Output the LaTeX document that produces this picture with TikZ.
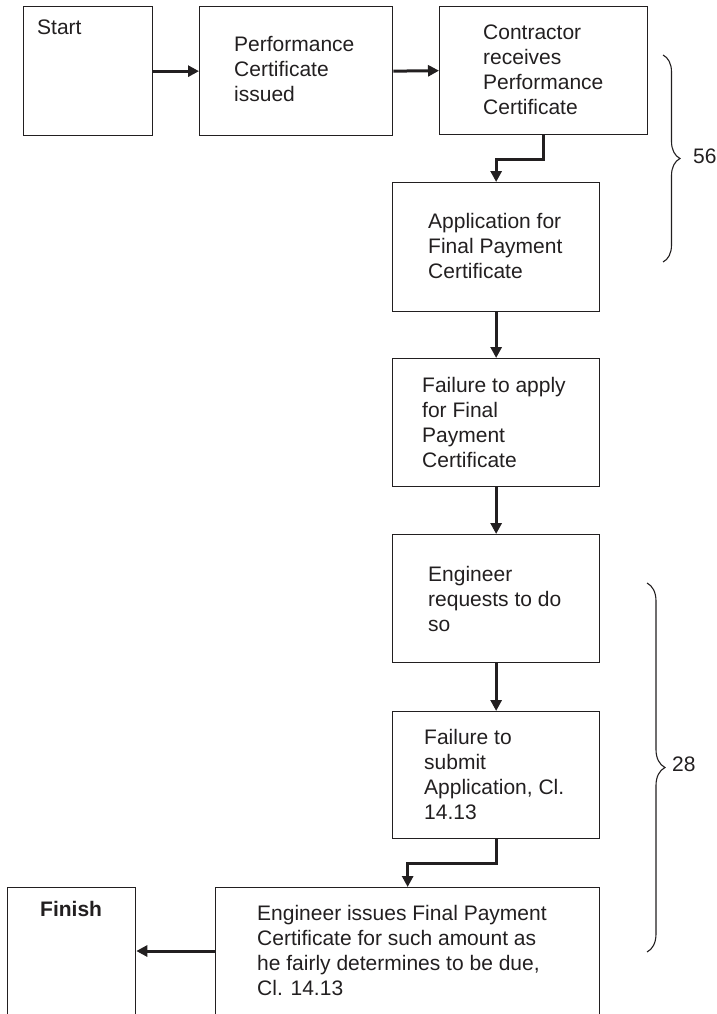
\documentclass[tikz,border=0pt]{standalone}
\usepackage{fontspec}
\setmainfont{Liberation Sans}
\usetikzlibrary{arrows.meta,decorations.pathreplacing,calc}
\definecolor{ink}{RGB}{34,31,32}
\tikzset{
  box/.style={draw=ink, line width=1.3pt, inner sep=0pt, anchor=north west},
  txt/.style={anchor=base west, inner sep=0pt, align=left, text=ink,
    font=\fontsize{21}{25}\selectfont},
  arr/.style={draw=ink, line width=3pt, -{Triangle[length=11pt,width=11pt]}},
  brc/.style={draw=ink, line width=1.1pt, decorate},
}
\begin{document}
\begin{tikzpicture}[x=1pt,y=-1pt]
\useasboundingbox (0,0) rectangle (717,1014);
\clip (0,0) rectangle (717,1014);
% boxes
\node[box, minimum width=129pt, minimum height=129pt] (start) at (23,6) {};
\node[box, minimum width=193pt, minimum height=129pt] (perf) at (199,6) {};
\node[box, minimum width=208pt, minimum height=128pt] (contr) at (439,6) {};
\node[box, minimum width=207pt, minimum height=129pt] (app) at (392,182) {};
\node[box, minimum width=207pt, minimum height=128pt] (failA) at (392,358) {};
\node[box, minimum width=207pt, minimum height=128pt] (engreq) at (392,534) {};
\node[box, minimum width=207pt, minimum height=127pt] (failB) at (392,711) {};
\node[box, minimum width=128pt, minimum height=200pt] (finish) at (7,887) {};
\node[box, minimum width=384pt, minimum height=200pt] (final) at (215,887) {};
% texts (anchor = baseline of the last line)
\node[txt] (tStart) at (37,35) {Start};
\node[txt] (tPerf) at (234,102) {Performance\\Certificate\\issued};
\node[txt] (tContr) at (483,115) {Contractor\\receives\\Performance\\Certificate};
\node[txt] (tApp) at (428,278) {Application for\\Final Payment\\Certificate};
\node[txt] (tFailA) at (422,467) {Failure to apply\\for Final\\Payment\\Certificate};
\node[txt] (tEng) at (428,631) {Engineer\\requests to do\\so};
\node[txt] (tFailB) at (424,819) {Failure to\\submit\\Application, Cl.\\14.13};
\node[txt] (tFinal) at (257,995) {Engineer issues Final Payment\\Certificate for such amount as\\he fairly determines to be due,\\Cl. 14.13};
\node[txt, font=\fontsize{21}{25}\selectfont\bfseries] (tFinish) at (40,916) {Finish};
% connectors
\draw[arr] (start.east) -- (perf.west);
\draw[arr] (perf.east) -- (contr.west);
\draw[arr] (contr.south) -- ++(0,24) -| (app.north);
\draw[arr] (app.south) -- (failA.north);
\draw[arr] (failA.south) -- (engreq.north);
\draw[arr] (engreq.south) -- (failB.north);
\draw[arr] (failB.south) -- ++(0,24) -| (final.north);
\draw[arr] ([yshift=-64pt]final.north west) -- ([yshift=-64pt]finish.north east);
% braces
\coordinate (b1t) at (663,55);
\coordinate (b1b) at (663,262);
\coordinate (b2t) at (647,583);
\coordinate (b2b) at (647,952);
\draw[brc, decoration={brace, amplitude=17pt}] (b1t) -- (b1b);
\draw[brc, decoration={brace, amplitude=18pt}] (b2t) -- (b2b);
\node[txt] (l56) at (693,164) {56};
\node[txt] (l28) at (672,771) {28};
\end{tikzpicture}
\end{document}
